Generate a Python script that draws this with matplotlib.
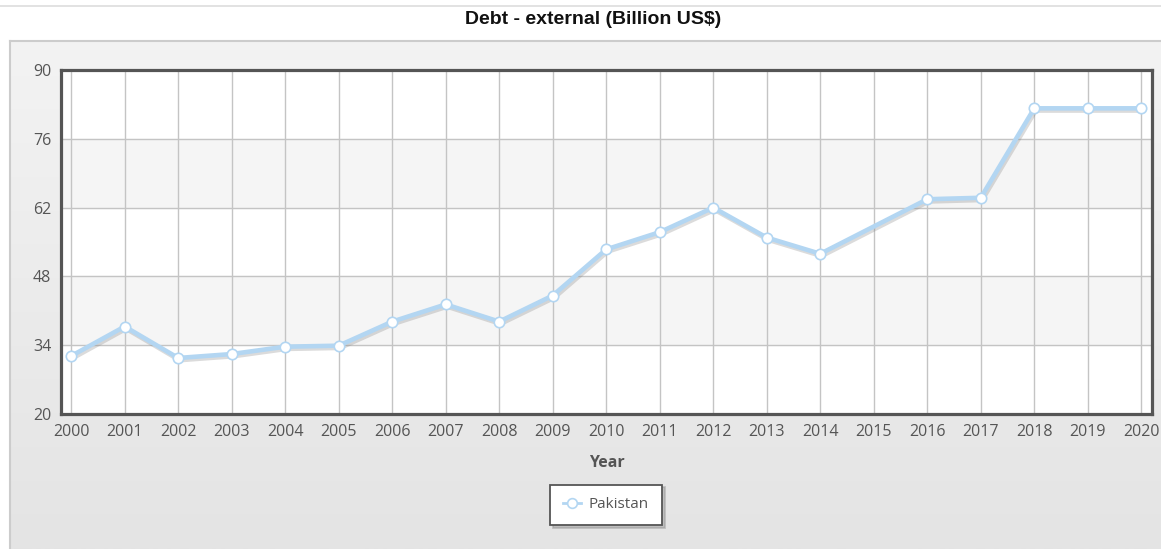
import numpy as np
import matplotlib
matplotlib.use("Agg")
import matplotlib.pyplot as plt
import matplotlib.patheffects as pe
from matplotlib.lines import Line2D

# data (2015 has no value)
years = list(range(2000, 2021))
debt = [31.8, 37.8, 31.4, 32.2, 33.7, 33.9, 38.8, 42.3, 38.8, 44.1,
        53.5, 57.0, 62.0, 55.9, 52.6, None, 63.7, 64.0, 82.2, 82.2, 82.2]
y_ticks = [20, 34, 48, 62, 76, 90]
country = "Pakistan"
title = "Debt - external (Billion US$)"

W, H = 1161, 549
fig = plt.figure(figsize=(W / 100, H / 100), dpi=100)
fig.patch.set_facecolor("white")

# thin line at the very top
fig.add_artist(Line2D([0, 1], [1 - 6 / H, 1 - 6 / H], color="#dddddd", lw=1.2))

# grey panel with vertical gradient
bg = fig.add_axes([10 / W, 0, 1 - 10 / W, 1 - 41 / H])
grad = np.linspace(0, 1, 256).reshape(-1, 1)
bg.imshow(grad, aspect="auto", cmap=matplotlib.colors.LinearSegmentedColormap.from_list(
    "g", ["#f3f3f3", "#e4e4e4"]), extent=[0, 1, 0, 1], origin="upper")
bg.set_xlim(0, 1)
bg.set_ylim(0, 1)
bg.set_xticks([])
bg.set_yticks([])
for s in bg.spines.values():
    s.set_visible(False)
for side in ("left", "top"):
    bg.spines[side].set_visible(True)
    bg.spines[side].set_color("#cccccc")
    bg.spines[side].set_linewidth(1.5)

fig.text(593 / W, 1 - 20 / H, title, ha="center", va="center",
         fontsize=14, fontweight="bold", family="Liberation Sans", color="#111111")

# plot area
ax = fig.add_axes([61 / W, (H - 414) / H, (1152 - 61) / W, (414 - 70) / H])
ax.set_facecolor("white")
ax.set_xlim(1999.81, 2020.2)
ax.set_ylim(20, 90)

# alternating bands
for i in range(len(y_ticks) - 1):
    if i % 2 == 1:
        ax.axhspan(y_ticks[i], y_ticks[i + 1], color="#f5f5f5", zorder=0)

ax.set_xticks(years)
ax.set_yticks(y_ticks)
ax.grid(True, color="#c4c4c4", lw=1.0, zorder=1)
ax.set_axisbelow(True)
ax.tick_params(length=0, labelsize=11.5, labelcolor="#555555", pad=7)
for lab in ax.get_xticklabels() + ax.get_yticklabels():
    lab.set_family("Open Sans")
for s in ax.spines.values():
    s.set_color("#555555")
    s.set_linewidth(2.3)
    s.set_zorder(5)

xs = [y for y, v in zip(years, debt) if v is not None]
vs = [v for v in debt if v is not None]
ax.plot(xs, vs, color="#b3d6f2", lw=3.3, zorder=3, solid_joinstyle="round",
        path_effects=[pe.SimpleLineShadow(offset=(1.0, -1.6), shadow_color="#888888", alpha=0.3),
                      pe.Normal()])
ax.plot(xs, vs, ls="none", marker="o", ms=7.5, mfc="white", mec="#b3d6f2",
        mew=1.2, zorder=4)

ax.set_xlabel("Year", fontsize=11.5, fontweight="bold", color="#555555",
              family="Open Sans", labelpad=11)

handle = Line2D([], [], color="#b3d6f2", lw=2, marker="o", ms=7, mfc="white",
                mec="#b3d6f2", mew=1.2)
leg = fig.legend([handle], [country], loc="center", bbox_to_anchor=(606 / W, 1 - 505 / H),
                 fancybox=False, shadow={"color": "#999999", "alpha": 0.5, "ox": 2, "oy": -2},
                 framealpha=1, edgecolor="#555555",
                 handlelength=1.2, handletextpad=0.5, borderpad=0.85,
                 prop={"family": "Open Sans", "size": 11})
leg.get_frame().set_linewidth(1.3)
for t in leg.get_texts():
    t.set_color("#555555")

fig.savefig("out.png", dpi=100)
